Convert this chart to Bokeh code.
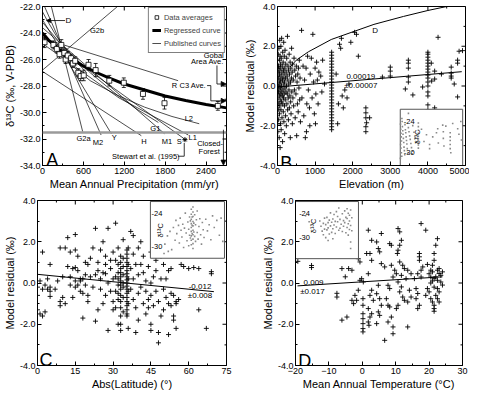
import math
from bokeh.plotting import figure
from bokeh.layouts import row, column
from bokeh.models import (Range1d, Span, Whisker, TeeHead, ColumnDataSource,
                          Arrow, NormalHead, Legend, LegendItem, FixedTicker, NumeralTickFormatter)
from bokeh.core.properties import value
from bokeh.embed import file_html
from bokeh.resources import INLINE

FONT = "Liberation Sans"
TICK_FS = "9px"
TITLE_FS = "11px"
SMALL_FS = "7.5px"

# ---------------- Panel A data ----------------
avg_map = [30, 160, 210, 250, 276, 320, 340, 370, 420, 445, 480, 525, 560, 605, 675, 780, 980, 1193, 1474, 1790, 2573]
avg_d13c = [-24.7, -24.9, -25.2, -25.6, -24.9, -25.5, -26.0, -25.7, -25.9, -26.3, -26.1, -27.0, -27.25, -27.2, -26.4, -26.8, -27.6, -27.75, -28.6, -29.3, -29.5]
avg_err = [0.4, 0.3, 0.3, 0.3, 0.4, 0.3, 0.3, 0.3, 0.3, 0.3, 0.3, 0.3, 0.35, 0.4, 0.4, 0.5, 0.4, 0.36, 0.4, 0.44, 0.33]

reg_map = [0, 100, 250, 400, 600, 800, 1000, 1200, 1500, 1800, 2100, 2400, 2700]
reg_d13c = [-24.0, -24.6, -25.25, -25.85, -26.5, -27.0, -27.45, -27.85, -28.3, -28.75, -29.1, -29.4, -29.65]

pubD_x = [0, 70, 200, 350, 500, 650]
pubD_y = [-22.4, -23.06, -24.2, -25.3, -26.2, -27.0]
pubG2b_x = [0, 1100]
pubG2b_y = [-26.8, -22.0]
pubG2a_x = [130, 590]
pubG2a_y = [-22.0, -31.45]
pubM2_x = [30, 860]
pubM2_y = [-22.0, -31.7]
pubY_x = [0, 1010]
pubY_y = [-23.0, -31.6]
pubH_x = [0, 1450]
pubH_y = [-26.9, -31.75]
pubM1_x = [0, 1790]
pubM1_y = [-23.6, -31.6]
pubS_x = [0, 2070]
pubS_y = [-24.3, -31.95]
pubL1_x = [0, 1123, 2140]
pubL1_y = [-24.8, -28.9, -31.7]
pubG1_x = [0, 300, 700, 1100, 1400, 1700]
pubG1_y = [-23.2, -25.0, -27.0, -28.7, -29.8, -30.75]
pubL2_x = [300, 700, 1100, 1500, 1900, 2300]
pubL2_y = [-25.9, -27.6, -28.7, -29.6, -30.3, -30.85]
pubR_x = [0, 1990]
pubR_y = [-24.4, -27.6]

curve_labels = ["G2b", "R", "L2", "G1", "G2a", "M2", "Y", "H", "M1", "S", "L1"]
curve_label_x = [800, 1937, 2147, 1656, 603, 814, 1053, 1488, 1825, 2007, 2204]
curve_label_y = [-23.8, -27.97, -30.42, -31.2, -31.93, -32.29, -31.86, -32.2, -32.2, -32.2, -31.86]

closed_forest_line = -31.5
global_area_ave = -27.85
c3_ave = -29.12
stewart_map = 2090
stewart_d13c = -32.05

# ---------------- Panel B data ----------------
b_pts = [
    (0, -1.9), (0, -1.5), (0, -1.1), (0, -0.8), (0, -0.4), (0, -0.1), (0, 0.2), (0, 0.5), (0, 0.9), (0, 1.3),
    (10, -2.3), (12, -0.6), (15, 0.7), (18, -1.2), (20, 1.6), (22, 0.0), (25, -0.3), (28, 1.0), (30, -1.7), (32, 0.4),
    (35, -0.9), (38, 1.9), (40, -0.2), (42, 0.8), (45, -2.6), (48, 0.1), (50, 1.3), (52, -1.4), (55, 0.6), (58, -0.5),
    (60, 2.3), (62, -1.0), (65, 0.3), (68, 1.5), (70, -3.1), (72, -0.7), (75, 0.9), (78, -0.1), (80, -1.9), (82, 1.1),
    (85, 0.2), (88, -0.4), (90, 2.0), (92, -1.2), (95, 0.5), (98, -2.2), (100, 1.4), (105, -0.8), (108, 0.0), (110, 2.4),
    (115, -0.3), (118, 0.7), (120, -1.6), (125, 1.0), (128, -0.5), (130, 0.3), (135, -2.8), (138, 1.7), (140, -0.9), (145, 0.4),
    (148, -0.2), (150, 1.2), (155, -1.3), (158, 0.8), (160, -0.6), (165, 2.2), (168, 0.1), (170, -1.8), (175, 0.6), (178, -0.4),
    (180, 1.5), (185, -1.0), (188, 0.2), (190, -2.4), (195, 0.9), (198, -0.1), (200, 1.8), (205, -0.7), (210, 0.4), (215, -1.5),
    (220, 1.1), (225, -0.3), (230, 0.7), (235, -2.0), (240, 0.0), (245, 1.4), (250, -0.9), (255, 0.5), (260, -0.4), (265, 2.5),
    (270, -1.2), (275, 0.3), (280, 1.0), (285, -0.6), (290, -1.7), (295, 0.8), (300, 0.1), (305, -0.2), (310, 1.6), (315, -1.1),
    (320, 0.6), (330, -0.5), (335, 1.2), (340, -2.6), (345, 0.2), (350, -0.8), (355, 0.9), (360, -1.4), (370, 0.4), (375, 1.9),
    (380, -0.3), (390, 0.7), (395, -1.9), (400, 1.1), (410, -0.6), (420, 0.3), (430, -1.0), (440, 1.4), (450, -0.2), (460, 0.8),
    (470, -1.6), (480, 0.5), (490, -0.4), (500, 1.0), (510, -2.5), (520, 0.2), (530, -0.9), (540, 0.6), (550, -1.3), (560, 0.9),
    (570, -0.1), (580, 1.3), (590, -0.7), (600, 0.4), (610, -1.8),
    (640, 2.8), (650, -0.6), (680, 1.0), (700, -1.5), (720, 0.3), (740, -2.6), (760, 0.9), (780, -0.9), (800, 1.5), (820, -0.2),
    (850, -1.1), (870, 0.6), (900, 1.4), (920, -0.6), (940, 2.6), (960, 0.2), (980, -1.4), (1000, 0.9), (1020, -0.4), (1040, 1.2),
    (1060, 0.3), (1080, -0.9), (1100, 0.7), (1150, 0.5), (1180, -0.3), (1200, 1.3), (1250, 0.1), (860, -2.0), (1010, -1.9), (770, -2.3),
    (1440, 1.7), (1440, 1.55), (1440, 1.4), (1440, 1.25), (1440, 1.1), (1440, 0.95), (1440, 0.8), (1440, 0.65), (1440, 0.5),
    (1440, 0.35), (1440, 0.2), (1440, 0.05), (1440, -0.1), (1440, -0.25), (1440, -0.4), (1440, -0.55), (1440, -0.7),
    (1440, -0.85), (1440, -1.0), (1440, -1.15), (1440, -1.3), (1440, -1.45), (1440, -1.6), (1440, -1.75), (1440, -1.9),
    (1440, -2.05), (1440, -2.2),
    (1600, -1.9), (1650, 2.1), (1680, 1.9), (1700, 2.4), (1720, -0.5), (1750, -1.1), (1790, -0.2), (1950, 2.2), (2050, 2.7),
    (2100, 2.6), (2150, 1.5), (1900, 0.1), (1850, -0.6), (1560, 0.6), (1620, -0.9),
    (2350, -1.1), (2350, -1.35), (2350, -1.6), (2370, -1.85), (2350, -2.05), (2350, -2.3), (2450, -1.6),
    (2790, 0.45), (3000, 0.5), (3000, 0.75), (3000, 0.95),
    (3400, -0.15), (3480, 0.2), (3480, 0.45), (3480, 0.9), (3480, 1.15), (3480, 1.3), (3600, -0.45),
    (4000, -1.2), (4000, -0.95), (4000, -0.5), (4000, -0.3), (4000, 0.0), (4000, 0.2), (4000, 0.4), (4000, 0.55),
    (4000, 0.7), (4000, 0.85), (4000, 1.0), (4000, 1.15), (4000, 1.3), (4000, 1.45), (4000, 1.6), (4000, 1.7),
    (3860, -0.05), (4090, 1.15), (4180, 0.75), (4180, 0.35), (4180, -1.1), (4100, 0.25), (4270, 2.45), (4360, 0.6),
    (4620, 0.4), (4620, 0.5), (4620, 0.65), (4620, 0.95), (4700, 0.1), (4790, -0.55), (4790, 1.15), (4790, 1.3),
    (4830, 1.75), (4920, 1.78),
]
b_fit_elev = [0, 4900]
b_fit_res = [-0.05, 0.72]
b_d_elev = [330, 500, 820, 1430, 2040, 2565, 3350, 4000, 4500]
b_d_res = [0.95, 1.3, 1.72, 2.34, 2.75, 3.1, 3.5, 3.8, 4.0]
b_inset = [
    (20, -24.5), (40, -25.5), (60, -26.3), (80, -27.0), (100, -27.8), (30, -28.5), (50, -29.2), (90, -30.1), (120, -30.8),
    (150, -24.0), (170, -25.0), (200, -25.8), (220, -26.5), (250, -27.3), (280, -28.1), (300, -29.0), (330, -29.7),
    (360, -30.5), (380, -24.6), (410, -25.6), (440, -26.2), (470, -27.0), (500, -27.7), (530, -28.4), (560, -29.3),
    (600, -30.2), (650, -25.2), (700, -26.0), (750, -26.8), (800, -27.5), (850, -28.3), (900, -29.1), (950, -30.3),
    (655, -22.4), (1000, -24.8), (1100, -26.1), (1200, -27.2), (1300, -28.0), (1000, -29.8), (10, -31.2), (130, -23.4),
    (1450, -24.3), (1450, -25.0), (1450, -25.7), (1450, -26.3), (1450, -26.9), (1450, -27.4), (1450, -28.0),
    (1450, -28.6), (1450, -29.2), (1700, -25.5), (1900, -27.9), (2100, -26.6), (2350, -28.5), (2350, -29.3),
    (2600, -27.0), (2900, -26.2), (3000, -25.4), (3050, -28.2), (3400, -24.7), (3450, -26.0), (3450, -27.3),
    (3500, -28.8), (3650, -24.9), (4000, -26.2), (4000, -27.0), (4000, -27.7), (4000, -28.5), (4000, -29.3),
    (4050, -30.1), (4200, -24.4), (4600, -25.4), (4700, -26.5), (4850, -24.0), (4900, -27.6),
]

# ---------------- Panel C data ----------------
c_pts = [
    (0, -0.2), (0, -0.6), (0, -1.3), (1, 0.1), (1, -1.5), (2, -1.6), (2, 1.5), (2, -0.3), (3, -0.1), (3, -1.4), (4, 0.2),
    (4, -0.3), (5, -0.2), (5, -0.4), (5, -0.65), (5, 0.9), (7, -0.3), (8, 0.1), (9, -0.9), (9, -1.1), (9, 1.7), (10, -0.7),
    (10, 0.3), (11, 1.7), (11, -1.0), (12, 2.2), (12, 0.8), (13, -0.1), (13, 1.5), (13, 0.3), (14, 0.7), (14, -0.7),
    (15, 0.75), (15, 1.6), (15, 0.1), (15, -0.2), (15, 2.35), (16, 0.6), (16, -0.1), (16, 1.3), (17, 0.2), (17, -0.4),
    (17, 0.1), (18, 0.2), (18, -0.5), (18, -1.7), (19, -0.1), (19, 1.0), (19, 0.4), (20, -0.6), (20, 0.9), (20, -0.9),
    (21, 1.2), (21, 0.3), (22, -0.2), (22, 1.7), (23, 2.65), (23, -1.85), (23, 0.4), (24, 1.0), (24, -1.3), (24, 0.6),
    (25, 1.6), (25, -0.3), (25, 0.2), (26, 0.5), (26, -1.0), (26, 2.0), (27, 0.9), (27, -0.6), (27, 1.3), (27, 0.45),
    (28, 2.65), (28, -2.3), (28, 0.0), (29, 0.7), (29, -0.4), (29, 1.1), (30, 0.2), (30, -0.9), (30, 1.5), (30, -1.3),
    (31, 2.9), (31, -0.4), (31, 0.3), (31, 1.1), (31, -1.2), (32, 0.5), (32, -0.1), (32, 0.9), (32, -0.8), (32, 1.7),
    (32, -2.0), (32, 0.2), (32, -0.5),
    (33, 1.3), (33, 1.0), (33, 0.7), (33, 0.5), (33, 0.3), (33, 0.1), (33, -0.1), (33, -0.3), (33, -0.6), (33, -0.9),
    (33, -1.2), (33, -1.6), (33, -2.0), (33, -2.3),
    (34, 0.8), (34, -0.2), (34, 0.4), (34, -0.7), (34, 1.2), (34, -1.4), (34, 0.0), (34, 2.1),
    (35.5, 1.6), (35.5, 1.4), (35.5, 1.2), (35.5, 1.0), (35.5, 0.8), (35.5, 0.6), (35.5, 0.45), (35.5, 0.3),
    (35.5, 0.15), (35.5, 0.0), (35.5, -0.15), (35.5, -0.3), (35.5, -0.5), (35.5, -0.7), (35.5, -0.9), (35.5, -1.1),
    (35.5, -1.3), (35.5, -1.5), (35.5, -1.6),
    (36, 0.9), (36, -0.4), (36, 0.2), (36, 1.7), (36, -2.2), (36, -1.0),
    (37, 2.5), (37, 0.7), (37, -0.3), (38, 1.4), (38, -0.8), (38, 2.3), (38, 0.2), (39, -1.2), (39, 0.9), (39, -2.4),
    (40, 0.4), (40, -0.5), (40, 1.7), (40, -1.8), (41, 0.9), (41, -0.2), (41, 2.0), (42, -1.0), (42, 0.5), (42, 1.3),
    (43, -0.4), (43, -1.5), (43, 0.1), (44, 0.8), (44, -0.8), (44, -1.2), (45, 0.0), (45, -2.3), (45, -2.0), (45, 1.5),
    (45, -0.6), (46, 0.3), (46, -1.1), (47, 1.1), (47, -0.4), (47, 0.6), (48, -2.4), (48, -2.9), (48, -0.9), (49, 1.3),
    (49, 0.2), (49, -1.6), (50, 0.9), (50, -0.3), (50, -1.3), (51, 0.2), (51, -0.7), (52, -1.0), (52, -2.5), (52, 0.6),
    (53, -1.1), (53, -0.5), (53, 0.7), (54, -1.6), (54, -1.8), (54, -0.6), (55, -0.9), (55, -2.2), (55, -1.0),
    (56, -0.8), (57, 0.9), (58, 0.8), (60, 0.7), (62, 0.75), (64, 0.7), (64, -1.3), (67, -2.2), (69, 0.55), (69, 0.45),
]
c_fit_lat = [0, 70]
c_fit_res = [0.42, -0.42]
c_inset = [
    (2, -29.5), (5, -28.0), (8, -27.2), (10, -30.5), (12, -26.5), (14, -28.8), (15, -25.2), (16, -27.6), (18, -26.1),
    (19, -29.3), (20, -24.8), (21, -27.0), (22, -28.2), (23, -25.9), (24, -30.1), (25, -26.6), (26, -23.9), (27, -27.5),
    (28, -28.9), (29, -25.5), (30, -26.8), (30, -29.8), (31, -24.6), (31, -27.9), (32, -25.3), (32, -28.4), (33, -23.2),
    (33, -24.1), (33, -25.0), (33, -25.8), (33, -26.5), (33, -27.2), (33, -28.0), (33, -28.8), (33, -29.6), (34, -24.6),
    (34, -26.1), (34, -27.6), (35, -22.8), (35, -23.7), (35, -24.5), (35, -25.4), (35, -26.2), (35, -27.0), (35, -27.8),
    (35, -28.6), (35, -29.4), (35, -30.3), (36, -25.7), (36, -27.3), (37, -24.2), (37, -28.1), (38, -26.0), (38, -29.0),
    (39, -25.1), (40, -27.4), (40, -23.5), (41, -28.6), (42, -26.3), (43, -24.9), (44, -27.8), (45, -29.5), (46, -25.6),
    (47, -26.9), (48, -28.3), (50, -25.0), (52, -27.1), (54, -26.0), (56, -28.7), (58, -24.4), (60, -26.5), (63, -25.2),
    (66, -27.9), (68, -24.8), (70, -29.0), (1, -31.2), (6, -30.8),
]

# ---------------- Panel D data ----------------
d_pts = [
    (-19.3, 1.05), (-15.2, 0.85), (-15.2, 0.75),
    (-7.6, -0.5), (-7.6, -0.68), (-6.1, 0.7), (-6.1, -1.8), (-5.1, 0.3), (-4.6, -1.65), (-4.1, 0.7), (-3.1, 0.62),
    (-3.1, -0.84), (-2.6, -1.0), (-2.2, -0.6), (-1.7, -0.84), (-1.2, 1.18), (-1.2, -0.35), (-0.7, 1.02), (-0.7, 0.13),
    (-0.2, 0.21), (0.3, 0.05), (0.2, -0.76), (0.2, -1.08), (0.2, -1.49), (0.2, -1.73), (0.2, -1.97), (0.2, -2.21),
    (0.2, -2.37), (1.3, 1.43), (1.8, 2.56), (1.8, 0.45), (1.8, -1.24), (1.8, -1.89), (2.0, -2.05), (2.3, 1.43),
    (2.3, -0.6), (2.3, -1.65), (2.8, 2.07), (2.8, 1.1), (2.8, -0.35), (2.8, -1.49), (3.3, -0.84), (4.3, 1.99),
    (4.3, -0.52), (4.3, -1.97), (4.8, 1.67), (4.8, -0.11), (4.8, -1.4), (5.2, 1.51), (5.2, -0.76), (5.2, -1.57),
    (5.7, 2.4), (5.7, 0.94), (5.7, -1.08), (6.7, 0.78), (6.7, -2.78), (7.2, -0.76), (7.7, -0.11), (7.7, -1.08),
    (7.7, -1.89), (8.2, 1.91), (8.2, -0.27), (8.2, -1.16), (8.7, 1.83), (8.7, 0.86), (8.7, -1.65), (9.2, 0.29),
    (9.2, -2.13), (9.2, -2.46), (9.7, 0.62), (10.2, 0.45), (10.2, -1.24), (10.5, 1.43), (10.7, 2.64), (10.7, 1.59),
    (10.7, 0.05), (10.7, -1.08), (11.2, 2.48), (11.2, 1.83), (11.2, 1.02), (11.2, -0.43), (11.7, 2.07), (11.7, 0.37),
    (11.7, -0.19), (12.1, 0.86), (12.1, -0.68), (12.6, 0.7), (12.6, -0.84), (13.1, 0.21), (13.6, 0.62), (13.6, -0.92),
    (13.6, -2.13), (14.1, -0.35), (14.6, 0.45), (14.6, -0.68), (15.6, 0.21), (16.1, -0.27), (16.1, -0.76), (16.6, 0.45),
    (16.6, -0.51), (16.6, -1.24), (17.1, 1.43), (17.1, 1.27), (17.1, 1.1), (17.1, -1.08), (17.6, 2.88), (17.6, 0.29),
    (17.6, 0.62), (18.1, 0.78), (19.0, 2.56), (19.5, -0.27), (20.0, -0.43), (19.0, -0.6), (20.5, 0.62), (20.5, 0.29),
    (20.5, -0.76), (20.5, 0.0), (21.0, 0.86), (21.0, 0.54), (21.0, -0.92), (21.5, 1.43), (21.5, 1.1), (21.5, 0.21),
    (21.5, -0.2), (21.5, -1.08), (21.5, -1.24), (21.5, -1.37), (22.0, 1.83), (22.0, -0.6), (22.5, 2.15), (22.5, 0.62),
    (22.5, 0.13), (22.5, -0.27), (22.5, -0.76), (23.0, 0.46), (23.0, -0.43), (23.0, -0.92), (23.5, 0.37), (23.5, 0.05),
    (24.0, 0.54), (23.0, 0.7), (22.0, 0.3), (21.0, 0.1), (20.0, 0.45), (24.0, -0.1), (19.5, 0.9),
]
d_fit_t = [-19.4, 24.0]
d_fit_res = [-0.14, 0.30]
d_inset = [
    (-15, -24.5), (-12, -26.0), (-3, -25.8), (-2, -27.1), (-1, -28.3), (0, -26.4), (0, -29.2), (1, -25.1), (1, -27.8),
    (2, -26.7), (2, -29.9), (3, -24.9), (3, -28.0), (4, -26.2), (4, -27.5), (5, -25.6), (5, -29.0), (6, -23.8),
    (6, -27.0), (7, -26.1), (7, -28.6), (8, -25.3), (8, -27.7), (9, -24.2), (9, -26.8), (10, -25.9), (10, -28.9),
    (11, -23.5), (11, -27.3), (12, -26.0), (12, -24.7), (13, -28.1), (13, -22.6), (14, -25.4), (14, -27.6), (15, -26.6),
    (16, -24.0), (16, -28.4), (17, -25.7), (17, -27.1), (18, -23.3), (18, -26.2), (19, -24.9), (19, -28.7), (20, -22.8),
    (20, -25.2), (20, -27.4), (21, -23.9), (21, -26.5), (21, -29.3), (22, -24.4), (22, -25.8), (22, -27.9), (23, -23.1),
    (23, -26.9), (23, -31.0), (23, -32.6), (24, -25.0), (24, -28.2), (8, -30.2), (4, -30.6),
]


# ---------------- helpers ----------------
def style_axis(ax):
    ax.major_tick_in = 4
    ax.major_tick_out = 0
    ax.minor_tick_in = 2
    ax.minor_tick_out = 0
    ax.axis_line_color = "black"
    ax.major_tick_line_color = "black"
    ax.minor_tick_line_color = "black"
    ax.major_label_text_font = FONT
    ax.major_label_text_font_size = TICK_FS
    ax.major_label_text_color = "black"
    ax.major_label_standoff = 2
    ax.axis_label_text_font = FONT
    ax.axis_label_text_font_size = TITLE_FS
    ax.axis_label_text_font_style = "normal"
    ax.axis_label_text_color = "black"
    ax.axis_label_standoff = 1


def make_fig(width, height, xr, yr, borders, xt, xm, yt, ym, xlabel, ylabel):
    bl, br, bt, bb = borders
    p = figure(width=width, height=height, x_range=Range1d(*xr), y_range=Range1d(*yr),
               output_backend="svg", toolbar_location=None,
               min_border_left=bl, min_border_right=br, min_border_top=bt, min_border_bottom=bb)
    p.xgrid.visible = False
    p.ygrid.visible = False
    p.outline_line_color = "black"
    p.outline_line_alpha = 1.0
    p.xaxis.ticker = FixedTicker(ticks=xt, minor_ticks=xm)
    p.yaxis.ticker = FixedTicker(ticks=yt, minor_ticks=ym)
    p.yaxis.formatter = NumeralTickFormatter(format="0.0")
    p.xaxis.axis_label = xlabel
    p.yaxis.axis_label = ylabel
    style_axis(p.xaxis[0])
    style_axis(p.yaxis[0])
    # mirrored inward ticks on the top and right edges (dash markers clipped by the frame)
    p.scatter(x=[xr[1]] * len(yt), y=yt, marker="dash", size=8, line_color="black", line_width=1)
    p.scatter(x=[xr[1]] * len(ym), y=ym, marker="dash", size=4, line_color="black", line_width=1)
    p.scatter(x=xt, y=[yr[1]] * len(xt), marker="dash", angle=math.pi / 2, size=8, line_color="black", line_width=1)
    p.scatter(x=xm, y=[yr[1]] * len(xm), marker="dash", angle=math.pi / 2, size=4, line_color="black", line_width=1)
    return p


def txt(p, x, y, t, size=SMALL_FS, align="center", baseline="middle", angle=0.0):
    p.text(x=x, y=y, text=t, text_font=value(FONT), text_font_size=size, text_align=align,
           text_baseline=baseline, text_color="black", angle=angle)


def arrow(p, x0, y0, x1, y1, size=5):
    p.add_layout(Arrow(end=NormalHead(size=size, fill_color="black", line_color="black", line_width=0.8),
                       x_start=x0, y_start=y0, x_end=x1, y_end=y1, line_color="black", line_width=0.8))


def add_inset(p, box, xsrc, ysrc, pts, lab_x, delta_x, ylabels):
    (l, r, b, t) = box
    p.quad(left=[l], right=[r], bottom=[b], top=[t], fill_color="white", line_color="#555555", line_width=1)
    sub = p.subplot(x_source=Range1d(*xsrc), y_source=Range1d(*ysrc),
                    x_target=Range1d(l, r), y_target=Range1d(b, t))
    sub.scatter(x=[q[0] for q in pts], y=[q[1] for q in pts], marker="square", size=1.6,
                fill_color="#8a8a8a", line_color=None)
    sub.text(x=[lab_x] * len(ylabels), y=ylabels, text=[str(v) for v in ylabels], text_font=value(FONT),
             text_font_size="7.5px", text_align="right", text_baseline="middle", text_color="black")
    sub.text(x=[delta_x], y=[sum(ylabels) / len(ylabels)], text=["δ¹³C"], text_font=value(FONT),
             text_font_size="7.5px", text_align="center", text_baseline="middle", angle=math.pi / 2,
             text_color="black")


CROSS = dict(marker="cross", size=5, line_color="black", line_width=0.9)

# ---------------- Panel A ----------------
pA = make_fig(240, 193, (0, 2700), (-34, -22), (37, 14, 6, 28),
              [0, 600, 1200, 1800, 2400], [300, 900, 1500, 2100, 2700],
              [-34, -32, -30, -28, -26, -24, -22], [-33, -31, -29, -27, -25, -23],
              "Mean Annual Precipitation (mm/yr)", "δ¹³C (‰, V-PDB)")

pA.add_layout(Span(location=closed_forest_line, dimension="width", line_color="#9a9a9a", line_width=2.5))

pub_curves = [(pubD_x, pubD_y), (pubG2b_x, pubG2b_y), (pubG2a_x, pubG2a_y), (pubM2_x, pubM2_y),
              (pubY_x, pubY_y), (pubH_x, pubH_y), (pubM1_x, pubM1_y), (pubS_x, pubS_y),
              (pubL1_x, pubL1_y), (pubG1_x, pubG1_y), (pubL2_x, pubL2_y), (pubR_x, pubR_y)]
pub_r = []
for xs, ys in pub_curves:
    pub_r.append(pA.line(xs, ys, line_color="black", line_width=0.7))

reg_r = pA.line(reg_map, reg_d13c, line_color="black", line_width=3)

avg_src = ColumnDataSource(dict(x=avg_map, y=avg_d13c,
                                upper=[y + e for y, e in zip(avg_d13c, avg_err)],
                                lower=[y - e for y, e in zip(avg_d13c, avg_err)]))
pA.add_layout(Whisker(base="x", upper="upper", lower="lower", source=avg_src, dimension="height",
                      line_color="black", line_width=0.8,
                      upper_head=TeeHead(size=4, line_width=0.8, line_color="black"),
                      lower_head=TeeHead(size=4, line_width=0.8, line_color="black")))
sq_r = pA.scatter("x", "y", source=avg_src, marker="square", size=5, fill_color="white",
                  line_color="black", line_width=0.8)

txt(pA, curve_label_x, curve_label_y, curve_labels)
txt(pA, [379], [-23.08], ["D"], size="8px")
arrow(pA, 330, -23.06, 60, -23.06, size=4)

txt(pA, [2660, 2660], [-25.67, -26.17], ["Gobal", "Area Ave."], align="right")
pA.line([2560, 2560], [-26.45, global_area_ave], line_color="black", line_width=0.8)
arrow(pA, 2560, global_area_ave, 2695, global_area_ave)
txt(pA, [2400], [-27.97], ["C3 Ave."], align="right")
pA.line([2415, 2470, 2470], [-27.97, -27.97, c3_ave], line_color="black", line_width=0.8)
arrow(pA, 2470, c3_ave, 2695, c3_ave)

txt(pA, [2270, 2290], [-32.36, -32.94], ["Closed-", "Forest"], align="left")
arrow(pA, 2655, -31.3, 2655, -33.97)

txt(pA, [1516], [-33.3], ["Stewart et al. (1995)"])
pA.line([1990, 2080, 2080], [-33.3, -33.3, -32.3], line_color="black", line_width=0.8)
pA.scatter([stewart_map], [stewart_d13c], marker="asterisk", size=5, line_color="black", line_width=1)

txt(pA, [55], [-33.55], ["A"], size="18px", align="left", baseline="alphabetic")

legA = Legend(items=[LegendItem(label="Data averages", renderers=[sq_r]),
                     LegendItem(label="Regressed curve", renderers=[reg_r]),
                     LegendItem(label="Published curves", renderers=[pub_r[0]])],
              location="top_right", label_text_font=FONT, label_text_font_size="7.5px",
              label_height=12, label_width=10, glyph_height=12, glyph_width=9, spacing=1, padding=3,
              margin=1, label_standoff=3, border_line_color="black", border_line_width=1,
              background_fill_color="white", background_fill_alpha=1.0)
pA.add_layout(legA)

# ---------------- Panel B ----------------
pB = make_fig(229, 193, (0, 5000), (-4, 4), (37, 4, 6, 28),
              [0, 1000, 2000, 3000, 4000, 5000], [500, 1500, 2500, 3500, 4500],
              [-4, -2, 0, 2, 4], [-3, -1, 1, 3],
              "Elevation (m)", "Model residual (‰)")
pB.scatter([q[0] for q in b_pts], [q[1] for q in b_pts], **CROSS)
pB.line(b_fit_elev, b_fit_res, line_color="black", line_width=1)
pB.line(b_d_elev, b_d_res, line_color="black", line_width=1)
txt(pB, [2600], [2.8], ["D"], size="8px")
txt(pB, [2217], [0.33], ["0.00019"], size="8px", baseline="bottom")
txt(pB, [2217], [0.27], ["±0.00007"], size="8px", baseline="top")
add_inset(pB, (3265, 4925, -4.0, -1.17), (0, 5000), (-32.6, -21.6), b_inset, 1150, 1400, [-24, -30])
txt(pB, [70], [-3.86], ["B"], size="18px", align="left", baseline="alphabetic")

# ---------------- Panel C ----------------
pC = make_fig(240, 200, (0, 75), (-4, 4), (37, 14, 7, 28),
              [0, 15, 30, 45, 60, 75], [7.5, 22.5, 37.5, 52.5, 67.5],
              [-4, -2, 0, 2, 4], [-3, -1, 1, 3],
              "Abs(Latitude) (°)", "Model residual (‰)")
pC.scatter([q[0] for q in c_pts], [q[1] for q in c_pts], **CROSS)
pC.line(c_fit_lat, c_fit_res, line_color="black", line_width=1)
txt(pC, [64.5], [-0.31], ["-0.012"], size="8px", baseline="bottom")
txt(pC, [64.5], [-0.38], ["±0.008"], size="8px", baseline="top")
add_inset(pC, (44.8, 74.2, 1.2, 3.95), (-15, 72), (-32.05, -21.8), c_inset, -1.0, -3.0, [-24, -30])
txt(pC, [0.8], [-3.75], ["C"], size="18px", align="left", baseline="alphabetic")

# ---------------- Panel D ----------------
pD = make_fig(229, 200, (-20, 30), (-4, 4), (55, 7, 7, 28),
              [-20, -10, 0, 10, 20, 30], [-15, -5, 5, 15, 25],
              [-4, -2, 0, 2, 4], [-3, -1, 1, 3],
              "Mean Annual Temperature (°C)", "Model residual (‰)")
pD.scatter([q[0] for q in d_pts], [q[1] for q in d_pts], **CROSS)
pD.line(d_fit_t, d_fit_res, line_color="black", line_width=1)
txt(pD, [-17.6], [-0.1], ["0.009"], size="8px", align="left", baseline="bottom")
txt(pD, [-18.6], [-0.17], ["±0.017"], size="8px", align="left", baseline="top")
add_inset(pD, (-20, -1.15, 1.18, 3.95), (-23.5, 29.6), (-35.1, -21.0), d_inset, -11.3, -8.3, [-24, -30])
txt(pD, [-19.2], [-3.8], ["D"], size="18px", align="left", baseline="alphabetic")

layout = column(row(pA, pB, spacing=0), row(pC, pD, spacing=0), spacing=0)
open("out.html", "w").write(file_html(layout, INLINE))
